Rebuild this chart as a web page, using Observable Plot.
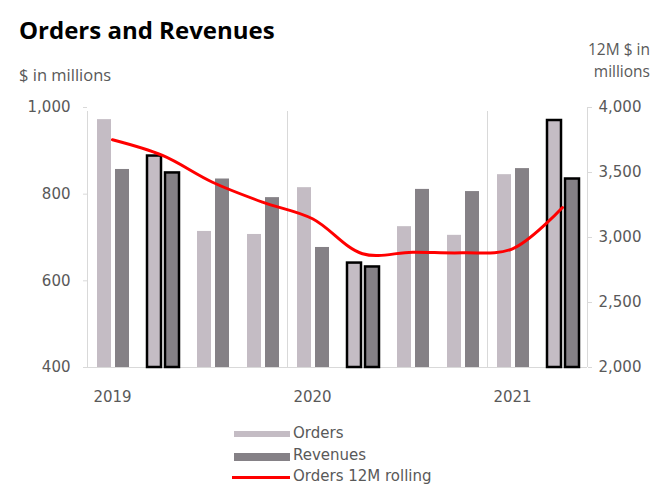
<!DOCTYPE html>
<html><head><meta charset="utf-8">
<script src="https://cdn.jsdelivr.net/npm/d3@7"></script>
<script src="https://cdn.jsdelivr.net/npm/@observablehq/plot@0.6"></script>
<style>
body{margin:0;background:#fff;}
#wrap{position:relative;width:669px;height:492px;overflow:hidden;font-family:"Open Sans",sans-serif;}
#chart{position:absolute;left:0;top:0;}
.t{position:absolute;white-space:nowrap;line-height:1.2;}
.lg{position:absolute;white-space:nowrap;font-family:"DejaVu Sans",sans-serif;font-size:15px;color:#595959;line-height:18px;}
.sw{position:absolute;}
</style></head><body>
<div id="wrap">
  <div id="chart"></div>
  <div class="t" style="left:19px;top:16px;font-size:24px;font-weight:700;color:#000;">Orders and Revenues</div>
  <div class="t" style="left:19px;top:65px;font-size:16.5px;color:#595959;">$ in millions</div>
  <div class="t" style="right:19px;top:39px;font-size:15.5px;color:#595959;text-align:right;line-height:20px;">12M $ in</div>
  <div class="t" style="right:19px;top:61px;font-size:15.5px;color:#595959;text-align:right;line-height:20px;">millions</div>
  <div id="legend"></div>
</div>
<script>
const quarters = ["Q1 2019","Q2 2019","Q3 2019","Q4 2019","Q1 2020","Q2 2020","Q3 2020","Q4 2020","Q1 2021","Q2 2021"];
const orders   = [972, 888, 714, 707, 815, 641, 725, 705, 845, 970];
const revenues = [857, 849, 835, 792, 677, 632, 811, 806, 859, 835];
const orders12M = [3752, 3631, 3425, 3272, 3144, 2875, 2887, 2882, 2913, 3231];
const highlighted = ["Q2 2019","Q2 2020","Q2 2021"];
const yearLabels = ["2019","2020","2021"];
const leftTicks = [400, 600, 800, 1000];
const rightTicks = [2000, 2500, 3000, 3500, 4000];
const seriesNames = ["Orders","Revenues","Orders 12M rolling"];

const ordersColor = "#c4bcc4";
const revenuesColor = "#858186";
const lineColor = "#ff0000";
const gridColor = "#d9d9d9";
const textColor = "#595959";

const data = quarters.map((q, i) => ({
  q, i, orders: orders[i], revenues: revenues[i], rolling: orders12M[i],
  hl: highlighted.includes(q)
}));
const r2l = d3.scaleLinear([2000, 4000], [400, 1000]);
const fmt = d3.format(",");

const chart = Plot.plot({
  width: 669, height: 492,
  marginLeft: 87, marginRight: 82, marginTop: 107, marginBottom: 125,
  x: {domain: [0, quarters.length], axis: null},
  y: {domain: [400, 1000], axis: null},
  style: {fontFamily: "DejaVu Sans, sans-serif", fontSize: "15px", background: "#fff"},
  marks: [
    Plot.ruleX([0, 4, 8], {y1: 400, y2: 1000, stroke: gridColor, insetBottom: -4}),
    Plot.ruleX([quarters.length], {y1: 400, y2: 1000, stroke: gridColor}),
    Plot.ruleY([400], {x1: 0, x2: quarters.length, stroke: gridColor}),
    Plot.rect(data, {x1: d => d.i + 0.2, x2: d => d.i + 0.48, y1: 400, y2: "orders",
      fill: ordersColor, stroke: d => d.hl ? "#000" : "none", strokeWidth: 2.5}),
    Plot.rect(data, {x1: d => d.i + 0.56, x2: d => d.i + 0.84, y1: 400, y2: "revenues",
      fill: revenuesColor, stroke: d => d.hl ? "#000" : "none", strokeWidth: 2.5}),
    Plot.line(data, {x: d => d.i + 0.5, y: d => r2l(d.rolling), stroke: lineColor,
      strokeWidth: 3, curve: "catmull-rom"}),
    Plot.axisY(leftTicks, {anchor: "left", tickSize: 4, tickPadding: 13, stroke: gridColor,
      color: textColor, tickFormat: fmt, label: null}),
    Plot.axisY(rightTicks.map(r2l), {anchor: "right", tickSize: 4, tickPadding: 7, stroke: gridColor,
      color: textColor, tickFormat: d => fmt(Math.round(r2l.invert(d))), label: null}),
    Plot.text(yearLabels, {x: (d, i) => i * 4 + 0.5, y: 400, dy: 30, text: d => d, fill: textColor})
  ]
});
document.getElementById("chart").appendChild(chart);

// legend
const legend = document.getElementById("legend");
const items = [
  {name: seriesNames[0], color: ordersColor, h: 6, top: 431, w: 56, left: 234},
  {name: seriesNames[1], color: revenuesColor, h: 8, top: 453, w: 56, left: 234},
  {name: seriesNames[2], color: lineColor, h: 3, top: 476, w: 58, left: 232}
];
const textTops = [424, 446, 467];
items.forEach((it, k) => {
  const s = document.createElement("div");
  s.className = "sw";
  s.style.cssText = `left:${it.left}px;top:${it.top}px;width:${it.w}px;height:${it.h}px;background:${it.color};`;
  legend.appendChild(s);
  const t = document.createElement("div");
  t.className = "lg";
  t.style.left = "293px";
  t.style.top = textTops[k] + "px";
  t.textContent = it.name;
  legend.appendChild(t);
});
</script>
</body></html>
